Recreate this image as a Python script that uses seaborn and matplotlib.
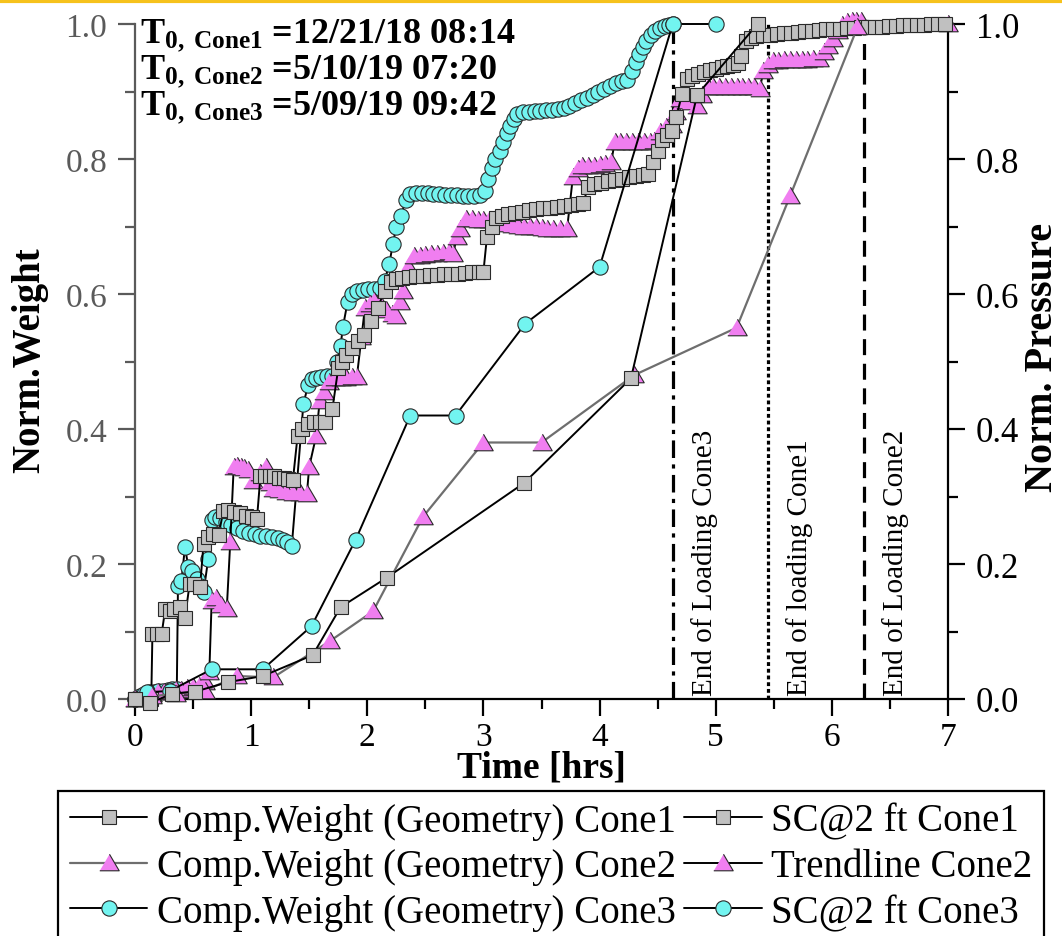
import matplotlib
matplotlib.use("Agg")
import matplotlib.pyplot as plt
import seaborn as sns
import numpy as np
import pandas as pd
from matplotlib.lines import Line2D
from matplotlib.ticker import MultipleLocator

sns.set_theme(style="ticks")
plt.rcParams['font.family'] = ['Liberation Serif', 'DejaVu Serif']
plt.rcParams['mathtext.fontset'] = 'custom'
plt.rcParams['mathtext.rm'] = 'Liberation Serif'
plt.rcParams['mathtext.bf'] = 'Liberation Serif:bold'
plt.rcParams['mathtext.it'] = 'Liberation Serif:italic'
plt.rcParams['text.color'] = 'black'

# ---------------- data ----------------
# Comp. Weight (Geometry) series (sparse)
comp1_t = [0.00, 0.13, 0.32, 0.52, 0.80, 1.10, 1.53, 1.77, 2.17, 3.35, 4.27, 4.84, 5.36]
comp1_v = [0.000, -0.006, 0.008, 0.011, 0.025, 0.034, 0.065, 0.136, 0.180, 0.320, 0.475, 0.895, 1.000]

comp2_t = [0.00, 0.15, 0.35, 0.60, 0.88, 1.19, 1.68, 2.05, 2.48, 3.00, 3.50, 4.30, 5.18, 5.64, 6.22]
comp2_v = [0.000, 0.004, 0.008, 0.012, 0.034, 0.032, 0.086, 0.130, 0.270, 0.380, 0.380, 0.480, 0.550, 0.745, 0.995]

comp3_t = [0.00, 0.10, 0.30, 0.66, 1.10, 1.52, 1.90, 2.37, 2.76, 3.36, 4.00, 4.63, 5.00]
comp3_v = [0.000, 0.010, 0.012, 0.044, 0.044, 0.108, 0.236, 0.420, 0.420, 0.556, 0.640, 1.000, 1.000]

# SC@2 ft Cone1 (dense)
sc1_t = [0.00, 0.05, 0.10, 0.14, 0.15, 0.19, 0.23, 0.26, 0.30, 0.34, 0.39, 0.43, 0.47, 0.51, 0.56,
         0.59, 0.63, 0.67, 0.72, 0.76, 0.80, 0.85, 0.90, 0.96, 1.01, 1.05, 1.08, 1.12, 1.16, 1.20,
         1.24, 1.28, 1.32, 1.36, 1.40, 1.44, 1.49, 1.54, 1.59, 1.64, 1.70, 1.75, 1.78, 1.82, 1.87,
         1.92, 1.97, 2.03, 2.09, 2.15, 2.20, 2.25, 2.30, 2.36, 2.42, 2.48, 2.54, 2.60, 2.66, 2.72,
         2.78, 2.84, 2.90, 2.96, 3.00, 3.03, 3.07, 3.11, 3.16, 3.21, 3.27, 3.33, 3.39, 3.45, 3.51,
         3.57, 3.63, 3.69, 3.75, 3.81, 3.86, 3.90, 3.95, 4.01, 4.07, 4.13, 4.19, 4.25, 4.31, 4.37,
         4.42, 4.46, 4.50, 4.54, 4.58, 4.62, 4.66, 4.71, 4.75, 4.80, 4.85, 4.90, 4.95, 5.00, 5.05,
         5.10, 5.15, 5.19, 5.22, 5.26, 5.30, 5.35, 5.41, 5.47, 5.53, 5.59, 5.65, 5.71, 5.77, 5.83,
         5.89, 5.95, 6.01, 6.07, 6.13, 6.19, 6.25, 6.31, 6.37, 6.43, 6.49, 6.55, 6.61, 6.67, 6.73,
         6.79, 6.85, 6.91, 6.97]
sc1_v = [0.000, 0.000, 0.000, 0.000, 0.096, 0.096, 0.097, 0.133, 0.131, 0.134, 0.136, 0.120, 0.170, 0.170, 0.166,
         0.230, 0.240, 0.244, 0.243, 0.278, 0.280, 0.277, 0.275, 0.271, 0.269, 0.267, 0.330, 0.331, 0.330, 0.330,
         0.328, 0.327, 0.326, 0.325, 0.390, 0.400, 0.408, 0.410, 0.410, 0.411, 0.430, 0.490, 0.500, 0.510, 0.520,
         0.530, 0.540, 0.560, 0.580, 0.605, 0.618, 0.622, 0.624, 0.625, 0.626, 0.627, 0.628, 0.628, 0.629, 0.630,
         0.630, 0.631, 0.632, 0.633, 0.633, 0.684, 0.700, 0.712, 0.716, 0.718, 0.720, 0.722, 0.724, 0.726, 0.727,
         0.728, 0.729, 0.730, 0.732, 0.733, 0.735, 0.758, 0.763, 0.765, 0.767, 0.769, 0.771, 0.773, 0.775, 0.777,
         0.778, 0.795, 0.812, 0.828, 0.836, 0.841, 0.862, 0.896, 0.918, 0.923, 0.926, 0.929, 0.932, 0.934, 0.936,
         0.938, 0.940, 0.942, 0.953, 0.975, 0.980, 0.982, 0.983, 0.984, 0.985, 0.986, 0.987, 0.988, 0.989, 0.990,
         0.991, 0.992, 0.992, 0.993, 0.994, 0.994, 0.995, 0.995, 0.996, 0.996, 0.997, 0.997, 0.998, 0.998, 0.999,
         0.999, 1.000, 1.000, 1.000]

# Trendline Cone2 (dense)
tr2_t = [0.00, 0.05, 0.10, 0.15, 0.20, 0.25, 0.30, 0.35, 0.40, 0.45, 0.50, 0.55, 0.60, 0.64, 0.66,
         0.70, 0.74, 0.79, 0.82, 0.85, 0.88, 0.91, 0.94, 0.97, 1.02, 1.08, 1.13, 1.16, 1.19, 1.24,
         1.30, 1.36, 1.42, 1.48, 1.50, 1.56, 1.59, 1.63, 1.67, 1.72, 1.77, 1.82, 1.87, 1.91, 1.95,
         1.98, 2.02, 2.06, 2.11, 2.16, 2.21, 2.25, 2.28, 2.31, 2.35, 2.40, 2.45, 2.50, 2.55, 2.60,
         2.65, 2.70, 2.74, 2.77, 2.80, 2.85, 2.90, 2.95, 3.00, 3.05, 3.10, 3.15, 3.20, 3.25, 3.30,
         3.35, 3.40, 3.45, 3.50, 3.55, 3.60, 3.66, 3.72, 3.77, 3.81, 3.85, 3.90, 3.95, 4.00, 4.05,
         4.10, 4.13, 4.18, 4.23, 4.28, 4.33, 4.38, 4.43, 4.47, 4.52, 4.57, 4.62, 4.66, 4.69, 4.74,
         4.79, 4.84, 4.88, 4.93, 4.98, 5.03, 5.08, 5.13, 5.18, 5.23, 5.28, 5.33, 5.38, 5.41, 5.45,
         5.49, 5.54, 5.59, 5.64, 5.69, 5.74, 5.79, 5.84, 5.89, 5.93, 5.97, 6.01, 6.05, 6.09, 6.13,
         6.17, 6.21, 6.25, 7.00]
tr2_v = [0.000, 0.004, 0.007, 0.008, 0.010, 0.010, 0.012, 0.013, 0.014, 0.016, 0.018, 0.020, 0.025, 0.040, 0.145,
         0.150, 0.140, 0.133, 0.232, 0.344, 0.345, 0.343, 0.342, 0.340, 0.323, 0.335, 0.344, 0.320, 0.311, 0.309,
         0.306, 0.305, 0.305, 0.304, 0.344, 0.390, 0.441, 0.455, 0.470, 0.475, 0.475, 0.476, 0.477, 0.477, 0.536,
         0.580, 0.585, 0.590, 0.585, 0.576, 0.570, 0.567, 0.588, 0.604, 0.640, 0.656, 0.657, 0.658, 0.659, 0.660,
         0.661, 0.662, 0.660, 0.684, 0.696, 0.711, 0.711, 0.710, 0.710, 0.709, 0.708, 0.705, 0.703, 0.702, 0.701,
         0.700, 0.700, 0.699, 0.698, 0.697, 0.697, 0.696, 0.696, 0.773, 0.785, 0.790, 0.790, 0.790, 0.791, 0.792,
         0.795, 0.825, 0.825, 0.825, 0.825, 0.825, 0.825, 0.825, 0.826, 0.840, 0.848, 0.850, 0.870, 0.889, 0.886,
         0.884, 0.879, 0.895, 0.906, 0.906, 0.906, 0.906, 0.906, 0.906, 0.906, 0.906, 0.906, 0.904, 0.930, 0.940,
         0.945, 0.945, 0.946, 0.946, 0.947, 0.947, 0.947, 0.948, 0.948, 0.958, 0.967, 0.978, 0.990, 0.998, 1.003,
         1.005, 1.005, 1.005, 1.000]

# SC@2 ft Cone3 (dense)
sc3_t = [0.00, 0.04, 0.08, 0.12, 0.16, 0.20, 0.24, 0.28, 0.32, 0.36, 0.37, 0.40, 0.43, 0.46, 0.49,
         0.53, 0.56, 0.59, 0.63, 0.66, 0.69, 0.73, 0.78, 0.83, 0.88, 0.93, 0.98, 1.03, 1.08, 1.13,
         1.18, 1.23, 1.27, 1.31, 1.35, 1.45, 1.49, 1.52, 1.56, 1.60, 1.65, 1.70, 1.74, 1.77, 1.79,
         1.83, 1.87, 1.91, 1.96, 2.01, 2.06, 2.11, 2.15, 2.19, 2.22, 2.25, 2.29, 2.33, 2.37, 2.42,
         2.47, 2.52, 2.57, 2.62, 2.67, 2.72, 2.77, 2.82, 2.87, 2.92, 2.97, 3.01, 3.04, 3.07, 3.10,
         3.14, 3.17, 3.20, 3.23, 3.26, 3.29, 3.34, 3.39, 3.44, 3.49, 3.54, 3.59, 3.64, 3.69, 3.74,
         3.79, 3.84, 3.89, 3.94, 3.99, 4.04, 4.09, 4.14, 4.19, 4.24, 4.28, 4.31, 4.34, 4.37, 4.40,
         4.44, 4.48, 4.52, 4.56, 4.60, 4.63]
sc3_v = [0.000, 0.005, 0.008, 0.010, 0.010, 0.012, 0.012, 0.014, 0.015, 0.015, 0.167, 0.175, 0.225, 0.195, 0.190,
         0.178, 0.168, 0.158, 0.207, 0.265, 0.270, 0.268, 0.262, 0.258, 0.253, 0.249, 0.246, 0.244, 0.242, 0.241,
         0.240, 0.238, 0.236, 0.232, 0.227, 0.437, 0.465, 0.474, 0.476, 0.477, 0.478, 0.479, 0.500, 0.523, 0.551,
         0.588, 0.600, 0.604, 0.606, 0.607, 0.608, 0.609, 0.620, 0.645, 0.674, 0.700, 0.715, 0.740, 0.748, 0.750,
         0.750, 0.749, 0.748, 0.748, 0.747, 0.746, 0.746, 0.745, 0.745, 0.745, 0.746, 0.753, 0.770, 0.787, 0.800,
         0.812, 0.825, 0.838, 0.849, 0.860, 0.866, 0.869, 0.870, 0.871, 0.871, 0.872, 0.873, 0.874, 0.876, 0.879,
         0.883, 0.887, 0.891, 0.895, 0.899, 0.904, 0.908, 0.912, 0.915, 0.917, 0.930, 0.943, 0.955, 0.966, 0.975,
         0.984, 0.990, 0.994, 0.997, 0.999, 1.000]

# end-of-loading markers (hrs)
end_t = [4.63, 5.45, 6.28]
end_labels = ["End of Loading Cone3", "End of loading Cone1", "End of Loading Cone2"]

t0_labels = ["Cone1", "Cone2", "Cone3"]
t0_values = ["12/21/18 08:14", "5/10/19 07:20", "5/09/19 09:42"]

legend_labels = ["Comp.Weight (Geometry) Cone1", "Comp.Weight (Geometry) Cone2",
                 "Comp.Weight (Geometry) Cone3", "SC@2 ft Cone1", "Trendline Cone2", "SC@2 ft Cone3"]

# ---------------- styling ----------------
W, H = 1062, 937
GRAY_FC = '#C0C0C0'
PINK_FC = '#F07EF0'
CYAN_FC = '#72F4F0'
EDGE = '#2a2a2a'
TRI = [(-1.0, -0.75), (1.0, -0.75), (0.0, 0.95)]

fig = plt.figure(figsize=(W / 100, H / 100), dpi=100)
fig.patch.set_facecolor('white')
ax = fig.add_axes([135 / W, 1 - 700 / H, (948 - 135) / W, (700 - 25) / H])
ax.set_facecolor('white')


def draw(t, v, marker, ms, fc, lc, lw, z):
    df = pd.DataFrame({'t': t, 'v': v})
    sns.lineplot(data=df, x='t', y='v', ax=ax, sort=False, estimator=None,
                 color=lc, linewidth=lw, marker=marker, markersize=ms,
                 markerfacecolor=fc, markeredgecolor=EDGE, markeredgewidth=0.8,
                 clip_on=False, zorder=z, legend=False)


# vertical end-of-loading lines
styles = [(0, (5.5, 2.0, 1.3, 2.0)), (0, (1.2, 0.9)), (0, (5.0, 2.7))]
for x, ls in zip(end_t, styles):
    ax.plot([x, x], [0, 1.0], color='black', lw=2.3, linestyle=ls, zorder=1)

draw(sc3_t, sc3_v, 'o', 11, CYAN_FC, 'black', 1.4, 2)
draw(tr2_t, tr2_v, TRI, 14, PINK_FC, 'black', 1.4, 3)
draw(sc1_t, sc1_v, 's', 10, GRAY_FC, 'black', 1.4, 4)
draw(comp3_t, comp3_v, 'o', 11, CYAN_FC, 'black', 1.4, 5)
draw(comp2_t, comp2_v, TRI, 14, PINK_FC, '#6e6e6e', 1.6, 5)
draw(comp1_t, comp1_v, 's', 10, GRAY_FC, 'black', 1.4, 6)

ax.set_xlim(0, 7)
ax.set_ylim(0, 1.0)
ax.set_xlabel('')
ax.set_ylabel('')

# axes styling
ax.spines['top'].set_visible(False)
ax.spines['left'].set_color('#5a5a5a')
ax.spines['left'].set_linewidth(1.6)
ax.spines['bottom'].set_color('black')
ax.spines['bottom'].set_linewidth(1.6)
ax.spines['right'].set_visible(False)

ax.xaxis.set_major_locator(MultipleLocator(1))
ax.xaxis.set_minor_locator(MultipleLocator(0.5))
ax.yaxis.set_major_locator(MultipleLocator(0.2))
ax.yaxis.set_minor_locator(MultipleLocator(0.1))
ax.yaxis.set_major_formatter(matplotlib.ticker.FormatStrFormatter('%.1f'))

ax.tick_params(axis='x', which='major', direction='out', length=12, width=1.6, color='black',
               labelsize=24, labelcolor='black', pad=4)
ax.tick_params(axis='x', which='minor', direction='out', length=7, width=1.6, color='black')
ax.tick_params(axis='y', which='major', direction='out', length=12, width=1.6, color='#5a5a5a',
               labelsize=24, labelcolor='#5a5a5a', pad=8)
ax.tick_params(axis='y', which='minor', direction='out', length=7, width=1.6, color='#5a5a5a')

ax2 = ax.twinx()
ax2.set_ylim(0, 1.0)
ax2.spines['top'].set_visible(False)
ax2.spines['left'].set_visible(False)
ax2.spines['bottom'].set_visible(False)
ax2.spines['right'].set_color('black')
ax2.spines['right'].set_linewidth(1.6)
ax2.yaxis.set_major_locator(MultipleLocator(0.2))
ax2.yaxis.set_minor_locator(MultipleLocator(0.1))
ax2.yaxis.set_major_formatter(matplotlib.ticker.FormatStrFormatter('%.1f'))
ax2.tick_params(axis='y', which='major', direction='out', length=12, width=1.6, color='black',
                labelsize=25, labelcolor='black', pad=8)
ax2.tick_params(axis='y', which='minor', direction='out', length=7, width=1.6, color='black')
ax2.set_zorder(-1)
ax.patch.set_visible(False)

# axis titles
fig.text(30 / W, 1 - 360 / H, 'Norm.Weight', rotation=90, ha='center', va='center',
         fontsize=28, fontweight='bold', color='black')
fig.text(1043 / W, 1 - 357 / H, 'Norm. Pressure', rotation=90, ha='center', va='center',
         fontsize=29, fontweight='bold', color='black')
fig.text(541 / W, 1 - 768 / H, 'Time [hrs]', ha='center', va='center',
         fontsize=27, fontweight='bold', color='black')

# end-of-loading annotations
for x, lab in zip(end_t, end_labels):
    ax.text(x + 0.335, 0.006, lab, rotation=90, rotation_mode='anchor',
            ha='left', va='baseline', fontsize=21, color='black', zorder=7)

# T0 annotations
for i, (c, val) in enumerate(zip(t0_labels, t0_values)):
    y_px = 43 + 36 * i
    ax.text(140 / W, 1 - y_px / H,
            r'$\mathbf{T}_{\mathbf{0,\ ' + c + r'}}$' + ' =' + val,
            transform=fig.transFigure, ha='left', va='baseline',
            fontsize=26, fontweight='bold', color='black', zorder=8)

# legend
def handle(marker, ms, fc, lc, lw):
    return Line2D([], [], color=lc, lw=lw, marker=marker, markersize=ms,
                  markerfacecolor=fc, markeredgecolor=EDGE, markeredgewidth=0.8)

handles = [handle('s', 10, GRAY_FC, 'black', 1.4),
           handle(TRI, 14, PINK_FC, '#6e6e6e', 1.6),
           handle('o', 11, CYAN_FC, 'black', 1.4),
           handle('s', 10, GRAY_FC, 'black', 1.4),
           handle(TRI, 14, PINK_FC, 'black', 1.4),
           handle('o', 11, CYAN_FC, 'black', 1.4)]
leg = fig.legend(handles, legend_labels, loc='upper left', bbox_to_anchor=(58 / W, 1 - 792 / H),
                 ncol=2, fontsize=28, frameon=True, fancybox=False, framealpha=1,
                 edgecolor='black', borderpad=0.3, borderaxespad=0, handlelength=2.0,
                 handletextpad=0.25, columnspacing=0.2, labelspacing=0.22, labelcolor='black')
leg.get_frame().set_linewidth(1.6)

# golden top border of the picture
fig.add_artist(Line2D([0, 1], [1 - 1.5 / H, 1 - 1.5 / H], transform=fig.transFigure,
                      color='#F6C21C', lw=3))

fig.savefig('out.png', dpi=100)
